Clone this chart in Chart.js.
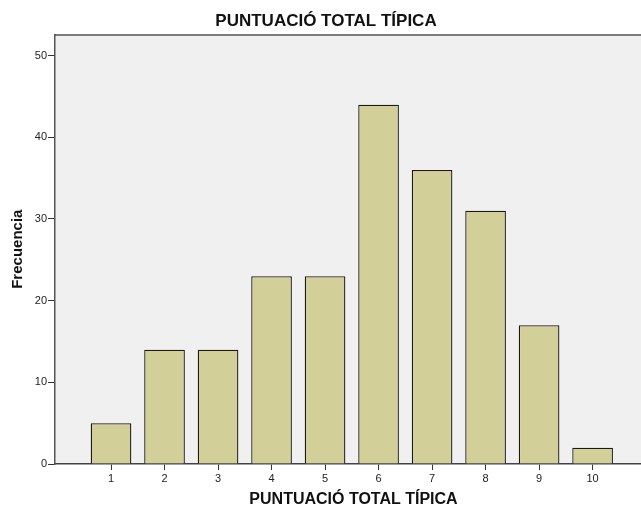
<!DOCTYPE html>
<html>
<head>
<meta charset="utf-8">
<script src="https://cdn.jsdelivr.net/npm/chart.js@4"></script>
<style>
  html, body { margin: 0; padding: 0; background: #fff; overflow: hidden; }
  #wrap { width: 652px; height: 509px; }
</style>
</head>
<body>
<div id="wrap"><canvas id="myChart"></canvas></div>
<script>
// valores del histograma
var puntuacion = [1, 2, 3, 4, 5, 6, 7, 8, 9, 10];
var frecuencia = [5, 14, 14, 23, 23, 44, 36, 31, 17, 2];
var yTicks = [0, 10, 20, 30, 40, 50];

var fontFam = "'Liberation Sans', Arial, sans-serif";

// fondo gris del area y linea superior
var areaFondo = {
  id: 'areaFondo',
  beforeDraw: function (chart) {
    var a = chart.chartArea, ctx = chart.ctx;
    ctx.save();
    ctx.fillStyle = '#f0f0f0';
    ctx.fillRect(a.left, a.top, a.right - a.left, a.bottom - a.top);
    ctx.restore();
  },
  afterDraw: function (chart) {
    var a = chart.chartArea, ctx = chart.ctx;
    ctx.save();
    ctx.strokeStyle = '#555';
    ctx.lineWidth = 1.5;
    ctx.beginPath();
    ctx.moveTo(a.left, a.top + 0.5);
    ctx.lineTo(a.right, a.top + 0.5);
    ctx.stroke();
    ctx.restore();
  }
};

var ctx = document.getElementById('myChart').getContext('2d');
new Chart(ctx, {
  type: 'bar',
  data: {
    datasets: [{
      data: puntuacion.map(function (p, i) { return { x: p, y: frecuencia[i] }; }),
      backgroundColor: '#d3cf98',
      borderColor: '#1a1a1a',
      borderWidth: 1.3,
      barPercentage: 0.76,
      categoryPercentage: 1
    }]
  },
  options: {
    responsive: true,
    maintainAspectRatio: false,
    animation: false,
    layout: { padding: { left: 0, right: 0, top: 0, bottom: 0 } },
    plugins: {
      legend: { display: false },
      tooltip: { enabled: false },
      title: {
        display: true,
        text: 'PUNTUACIÓ TOTAL TÍPICA',
        color: '#111',
        font: { family: fontFam, size: 17, weight: 'bold' },
        padding: { top: 11, bottom: 3 }
      }
    },
    scales: {
      x: {
        type: 'linear',
        offset: false,
        min: -0.047,
        max: 11.11,
        afterBuildTicks: function (scale) {
          scale.ticks = puntuacion.map(function (v) { return { value: v }; });
        },
        afterFit: function (scale) { scale.height = 45; },
        ticks: {
          color: '#222',
          font: { family: fontFam, size: 11 },
          padding: 2,
          autoSkip: false,
          maxRotation: 0
        },
        grid: {
          offset: false,
          drawOnChartArea: false,
          drawTicks: true,
          tickLength: 6,
          color: '#333'
        },
        border: { display: true, color: '#444', width: 1.5 },
        title: {
          display: true,
          text: 'PUNTUACIÓ TOTAL TÍPICA',
          color: '#111',
          font: { family: fontFam, size: 16, weight: 'bold' },
          padding: { top: 0, bottom: 0 }
        }
      },
      y: {
        min: 0,
        max: 52.6,
        afterBuildTicks: function (scale) {
          scale.ticks = yTicks.map(function (v) { return { value: v }; });
        },
        afterFit: function (scale) { scale.width = 55; },
        ticks: {
          color: '#222',
          font: { family: fontFam, size: 11 },
          padding: 1
        },
        grid: {
          drawOnChartArea: false,
          drawTicks: true,
          tickLength: 7,
          color: '#333'
        },
        border: { display: true, color: '#555', width: 1.5 },
        title: {
          display: true,
          text: 'Frecuencia',
          color: '#111',
          font: { family: fontFam, size: 15, weight: 'bold' },
          padding: { top: 9, bottom: 0 }
        }
      }
    }
  },
  plugins: [areaFondo]
});
</script>
</body>
</html>
